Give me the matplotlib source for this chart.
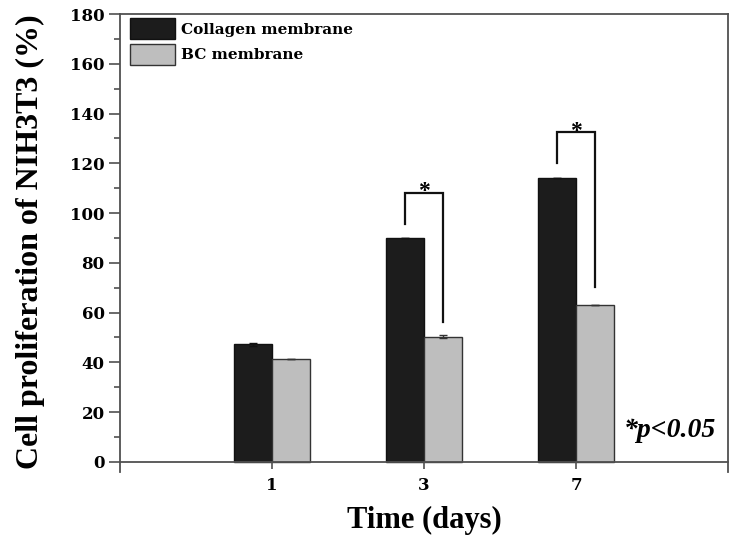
import numpy as np
import matplotlib.pyplot as plt
from matplotlib.ticker import MultipleLocator

# data
days = ['1', '3', '7']
collagen = [47.2, 89.8, 114.0]
collagen_err = [0.6, 0.0, 0.0]
bc = [41.2, 50.3, 62.9]
bc_err = [0.0, 0.6, 0.0]

# significance brackets (day index, top, left leg end, right leg end)
sig_days = [1, 2]
sig_top = [108.2, 132.4]
sig_left = [95.6, 120.0]
sig_right = [56.3, 70.4]

serif_num = 'DejaVu Serif'
serif_lbl = 'Liberation Serif'
edge = '#505050'

fig = plt.figure(figsize=(7.39, 5.41), dpi=100)
ax = fig.add_axes([0.1624, 0.128, 0.8227, 0.846])

x = np.arange(len(days)) + 1
w = 0.25
ax.bar(x - w / 2, collagen, w, color='#1c1c1c', edgecolor='#111111', linewidth=1, label='Collagen membrane')
ax.bar(x + w / 2, bc, w, color='#bebebe', edgecolor='#333333', linewidth=1, label='BC membrane')
ax.errorbar(x - w / 2, collagen, yerr=collagen_err, fmt='none', ecolor='#111111', elinewidth=1, capsize=3)
ax.errorbar(x + w / 2, bc, yerr=bc_err, fmt='none', ecolor='#333333', elinewidth=1, capsize=3)

# brackets with stars
for i, d in enumerate(sig_days):
    xl = x[d] - w / 2
    xr = x[d] + w / 2
    ax.plot([xl, xl, xr, xr], [sig_left[i], sig_top[i], sig_top[i], sig_right[i]],
            color='#111111', lw=1.6, solid_joinstyle='miter')
    ax.text((xl + xr) / 2, sig_top[i] - 3.8, '*', ha='center', va='bottom',
            fontsize=17, fontweight='bold', family=serif_lbl)

ax.set_xlim(0, 4)
ax.set_ylim(-4, 180)
ax.spines['bottom'].set_position(('data', 0))
for s in ax.spines.values():
    s.set_color(edge)
    s.set_linewidth(1.3)

ax.set_xticks(x)
ax.set_xticklabels(days)
ax.yaxis.set_major_locator(MultipleLocator(20))
ax.yaxis.set_minor_locator(MultipleLocator(10))
ax.tick_params(axis='y', which='major', direction='out', length=8, width=1.2, color=edge, pad=3)
ax.tick_params(axis='y', which='minor', direction='out', length=4, width=1.2, color=edge)
ax.tick_params(axis='x', which='major', direction='out', length=5, width=1.2, color=edge, pad=6)
for lab in ax.get_xticklabels() + ax.get_yticklabels():
    lab.set_family(serif_num)
    lab.set_fontweight('bold')
    lab.set_fontsize(12)

ax.set_ylabel('Cell proliferation of NIH3T3 (%)', family=serif_lbl, fontweight='bold', fontsize=23)
ax.yaxis.set_label_coords(-0.123, 0.503)
ax.set_xlabel('Time (days)', family=serif_lbl, fontweight='bold', fontsize=22)
ax.xaxis.set_label_coords(0.5, -0.075)

ax.text(0.905, 0.091, '*p<0.05', transform=ax.transAxes, ha='center', va='center',
        family=serif_lbl, fontweight='bold', style='italic', fontsize=20)

ax.legend(loc='upper left', bbox_to_anchor=(0.004, 1.008), frameon=False, borderpad=0,
          handlelength=2.95, handleheight=1.75, handletextpad=0.35, labelspacing=0.3,
          prop={'family': serif_num, 'weight': 'bold', 'size': 11})

fig.savefig('out.png', dpi=100)
